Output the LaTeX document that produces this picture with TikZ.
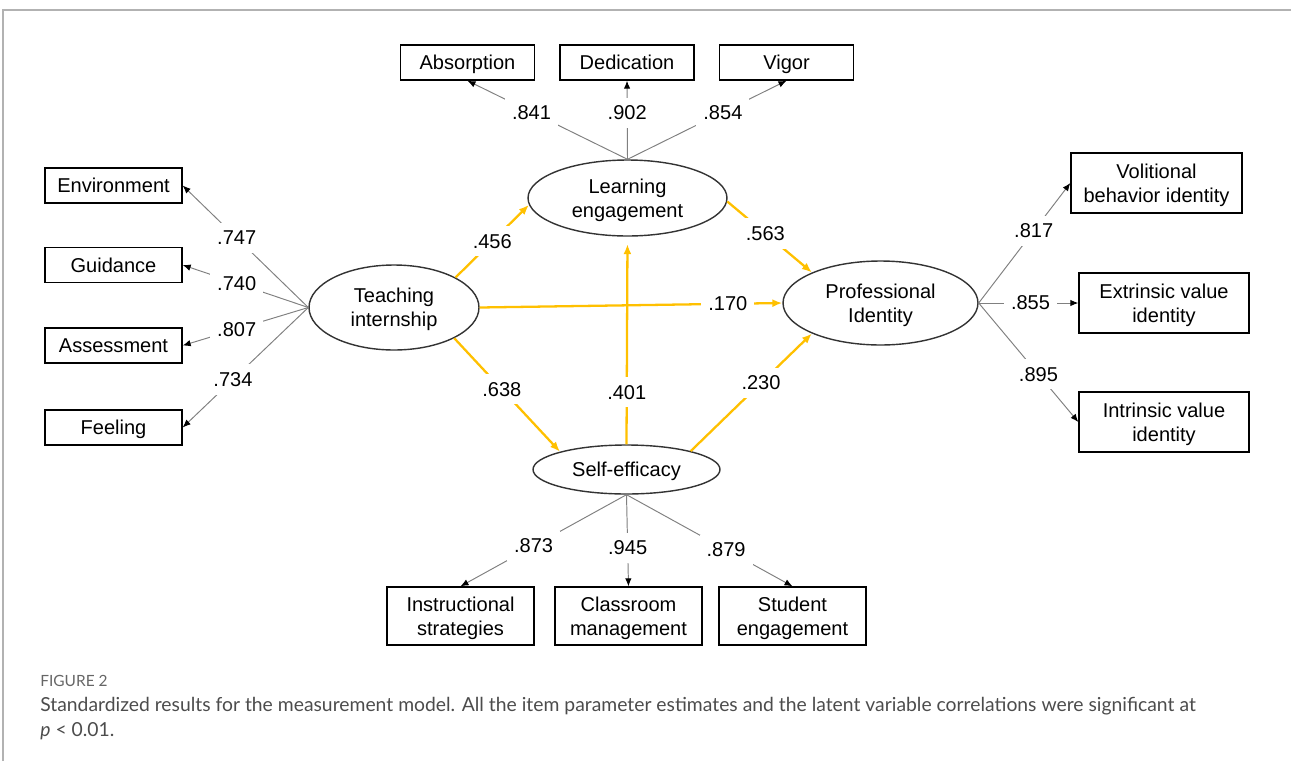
\documentclass[tikz,border=0pt]{standalone}
\usepackage{fontspec}
\setmainfont{Liberation Sans}
\newfontfamily\capfont{Lato}
\usetikzlibrary{arrows.meta,shapes.geometric}
\definecolor{gold}{HTML}{FFC000}

\begin{document}
\begin{tikzpicture}[x=0.02cm,y=-0.02cm,font=\fontsize{11.4}{13.6}\selectfont,
		box/.style={draw,line width=.8pt,align=center,inner sep=0pt,text depth=0pt},
		latent/.style={draw=black!80,ellipse,line width=.8pt,align=center,inner sep=0pt,text depth=0pt},
		loading/.style={black!50,line width=.55pt,-{Latex[color=black,length=1.6mm,width=1.3mm]}},
		struct/.style={gold,line width=1.3pt,-{Latex[length=2mm,width=1.6mm]}},
		est/.style={fill=white,text=black,inner xsep=1.4mm,inner ysep=1.6mm}]
	\useasboundingbox (0,0) rectangle (1291,761);
	\draw[black!30,line width=.8pt] (3,761) -- (3,10) -- (1291,10);
	
	\node[latent,minimum width=3.4cm,minimum height=1.7cm] (ti) at (394,307.5) {Teaching\\internship};
	\node[latent,minimum width=3.98cm,minimum height=1.52cm] (le) at (627.5,198) {Learning\\engagement};
	\node[latent,minimum width=3.9cm,minimum height=1.68cm] (pi) at (880.5,303) {Professional\\Identity};
	\node[latent,minimum width=3.74cm,minimum height=.98cm] (se) at (626.5,469.5) {Self-efficacy};
	
	\node[box,minimum width=2.68cm,minimum height=.7cm] (abs) at (467.5,62.5) {Absorption};
	\node[box,minimum width=2.68cm,minimum height=.7cm] (ded) at (627,62.5) {Dedication};
	\node[box,minimum width=2.68cm,minimum height=.7cm] (vig) at (786.5,62.5) {Vigor};
	
	\node[box,minimum width=2.74cm,minimum height=.7cm] (env) at (113.5,185.5) {Environment};
	\node[box,minimum width=2.74cm,minimum height=.7cm] (gui) at (113.5,265) {Guidance};
	\node[box,minimum width=2.74cm,minimum height=.7cm] (ass) at (113.5,345.5) {Assessment};
	\node[box,minimum width=2.74cm,minimum height=.7cm] (fee) at (113.5,427.5) {Feeling};
	
	\node[box,minimum width=3.42cm,minimum height=1.2cm] (vol) at (1156.5,183) {Volitional\\behavior identity};
	\node[box,minimum width=3.4cm,minimum height=1.2cm] (ext) at (1164,303) {Extrinsic value\\identity};
	\node[box,minimum width=3.4cm,minimum height=1.2cm] (int) at (1164,422) {Intrinsic value\\identity};
	
	\node[box,minimum width=2.94cm,minimum height=1.16cm] (ins) at (460.5,616) {Instructional\\strategies};
	\node[box,minimum width=2.94cm,minimum height=1.16cm] (cla) at (628.5,616) {Classroom\\management};
	\node[box,minimum width=2.94cm,minimum height=1.16cm] (stu) at (792.5,616) {Student\\engagement};
	
	\draw[loading] (le.north) -- node[est,pos=.6]{.841} (abs.south);
	\draw[loading] (le.north) -- node[est,pos=.59]{.902} (ded.south);
	\draw[loading] (le.north) -- node[est,pos=.6]{.854} (vig.south);
	
	\draw[loading] (ti.west) -- node[est,pos=.57]{.747} (env.east);
	\draw[loading] (ti.west) -- node[est,pos=.57]{.740} (gui.east);
	\draw[loading] (ti.west) -- node[est,pos=.57]{.807} (ass.east);
	\draw[loading] (ti.west) -- node[est,pos=.6]{.734} (fee.east);
	
	\draw[loading] (pi.east) -- node[est,pos=.6]{.817} (vol.west);
	\draw[loading] (pi.east) -- node[est,pos=.52]{.855} (ext.west);
	\draw[loading] (pi.east) -- node[est,pos=.6]{.895} (int.west);
	
	\draw[loading] (se.south) -- node[est,pos=.56]{.873} (ins.north);
	\draw[loading] (se.south) -- node[est,pos=.58]{.945} (cla.north);
	\draw[loading] (se.south) -- node[est,pos=.6]{.879} (stu.north);
	
	\draw[struct] (ti.26) -- node[est,pos=.5]{.456} (le.184);
	\draw[struct] (le.-2) -- node[est,pos=.45]{.563} (pi.156);
	\draw[struct] (ti.east) -- node[est,pos=.82]{.170} (pi.west);
	\draw[struct] (ti.-27) -- node[est,pos=.45]{.638} (se.165);
	\draw[struct,shorten >=.15cm] (se.north) -- node[est,pos=.25]{.401} (le.south);
	\draw[struct] (se.16) -- node[est,pos=.58]{.230} (pi.204);
	
	\node[anchor=base west,inner sep=0pt,text=black!60,font=\capfont\fontsize{8.8}{10}\selectfont] (fig) at (40,686) {FIGURE 2};
	\node[anchor=base west,inner sep=0pt,text=black!70,font=\capfont\fontsize{11}{13}\selectfont] (cap1) at (40,711) {Standardized results for the measurement model. All the item parameter estimates and the latent variable correlations were significant at};
	\node[anchor=base west,inner sep=0pt,text=black!70,font=\capfont\fontsize{11}{13}\selectfont] (cap2) at (40,736) {\textit{p} < 0.01.};
\end{tikzpicture}
\end{document}
